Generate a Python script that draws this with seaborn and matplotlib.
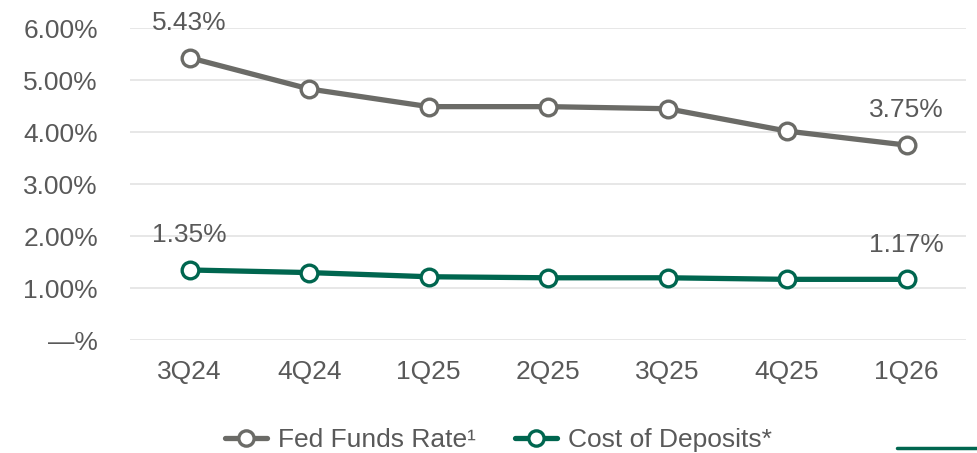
import matplotlib
matplotlib.use("Agg")
import matplotlib.pyplot as plt
import seaborn as sns
import pandas as pd
from matplotlib.lines import Line2D

quarters = ["3Q24", "4Q24", "1Q25", "2Q25", "3Q25", "4Q25", "1Q26"]
fed_funds = [5.43, 4.83, 4.49, 4.49, 4.45, 4.02, 3.75]
cost_deposits = [1.35, 1.30, 1.22, 1.20, 1.20, 1.17, 1.17]
yticks = [0, 1, 2, 3, 4, 5, 6]
ytick_labels = ["—%", "1.00%", "2.00%", "3.00%", "4.00%", "5.00%", "6.00%"]

GRAY = "#6b6b67"
GREEN = "#00664f"
TEXT = "#595959"
FS = 19

sns.set_theme(style="white")
plt.rcParams["font.family"] = ["Liberation Sans", "DejaVu Sans"]

df = pd.DataFrame({"q": quarters, "x": range(len(quarters)),
                   "fed": fed_funds, "dep": cost_deposits})

fig = plt.figure(figsize=(9.77, 4.53), dpi=100)
ax = fig.add_axes([0.133, 0.249, 0.856, 0.689])

common = dict(marker="o", markersize=12, markerfacecolor="white",
              markeredgewidth=2.4, linewidth=3.8, clip_on=False)
sns.lineplot(data=df, x="x", y="fed", ax=ax, color=GRAY, markeredgecolor=GRAY, **common)
sns.lineplot(data=df, x="x", y="dep", ax=ax, color=GREEN, markeredgecolor=GREEN, **common)

ax.set_xlim(-0.5, 6.5)
ax.set_ylim(0, 6)
ax.set_yticks(yticks)
ax.set_yticklabels(ytick_labels)
ax.set_xticks(range(len(quarters)))
ax.set_xticklabels(quarters)
ax.set_xlabel("")
ax.set_ylabel("")
ax.grid(axis="y", color="#e3e3e3", linewidth=1.2)
ax.set_axisbelow(True)
for s in ax.spines.values():
    s.set_visible(False)
ax.tick_params(axis="y", length=0, pad=23, labelsize=FS, labelcolor=TEXT)
ax.tick_params(axis="x", length=0, pad=14, labelsize=FS, labelcolor=TEXT)

for i in (0, len(quarters) - 1):
    for series in (fed_funds, cost_deposits):
        ax.annotate(f"{series[i]:.2f}%", (i, series[i]), xytext=(0, 25),
                    textcoords="offset points", ha="center", va="center",
                    fontsize=FS, color=TEXT)

handles = [
    Line2D([], [], color=GRAY, marker="o", markersize=11, markerfacecolor="white",
           markeredgecolor=GRAY, markeredgewidth=2.4, linewidth=3.8),
    Line2D([], [], color=GREEN, marker="o", markersize=11, markerfacecolor="white",
           markeredgecolor=GREEN, markeredgewidth=2.4, linewidth=3.8),
]
fig.legend(handles, ["Fed Funds Rate¹", "Cost of Deposits*"],
           loc="center", bbox_to_anchor=(0.51, 0.028), ncol=2, frameon=False,
           fontsize=FS, labelcolor=TEXT, handlelength=1.6, handletextpad=0.4,
           columnspacing=1.5)

fig.add_artist(Line2D([0.918, 1.0], [0.011, 0.011], color=GREEN, linewidth=2.5,
                      transform=fig.transFigure))

fig.savefig("out.png", dpi=100)
